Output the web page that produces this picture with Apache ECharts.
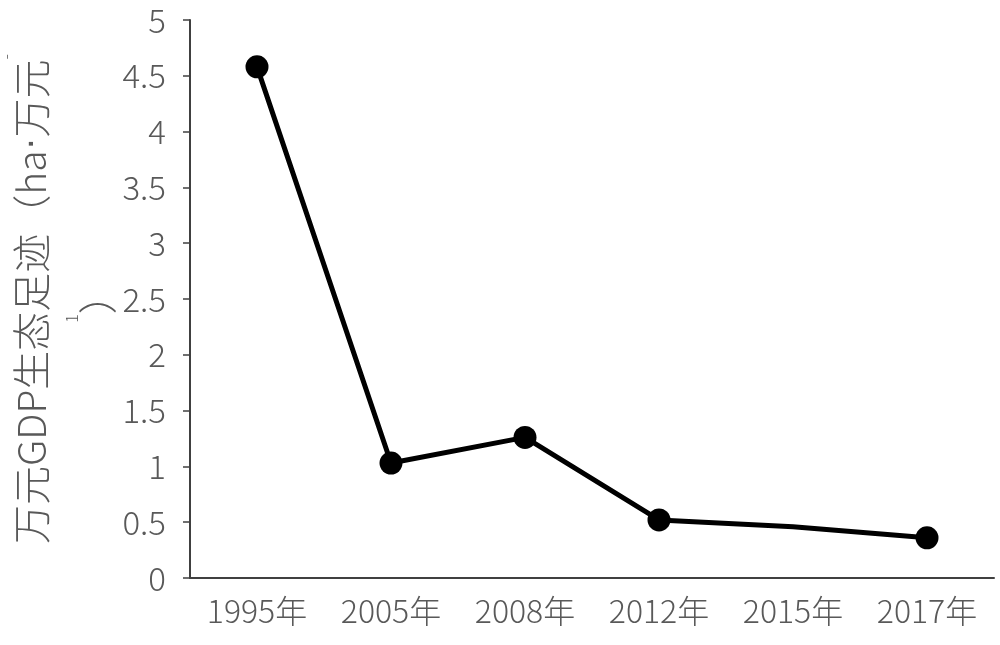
<!DOCTYPE html>
<html><head><meta charset="utf-8">
<script src="https://cdn.jsdelivr.net/npm/echarts@6/dist/echarts.min.js"></script>
<style>html,body{margin:0;padding:0;background:#fff}#c{width:1000px;height:645px}</style>
</head><body><div id="c"></div>
<script>
const categories = ['1995年','2005年','2008年','2012年','2015年','2017年'];
const values = [4.58, 1.03, 1.26, 0.52, 0.46, 0.36];
const showMarker = [true, true, true, true, false, true];
const yTicks = {min: 0, max: 5, interval: 0.5};

const chart = echarts.init(document.getElementById('c'));
const font = '"Noto Sans CJK SC", sans-serif';
chart.setOption({
  animation: false,
  grid: {left: 190, right: 6, top: 20, bottom: 67, containLabel: false, outerBoundsMode: 'none'},
  xAxis: {
    type: 'category', data: categories,
    axisLine: {lineStyle: {color: '#404040', width: 2}},
    axisTick: {show: false},
    axisLabel: {color: '#595959', fontSize: 32, fontWeight: 300, fontFamily: font, margin: 17}
  },
  yAxis: {
    type: 'value', min: yTicks.min, max: yTicks.max, interval: yTicks.interval,
    splitLine: {show: false},
    axisLine: {show: true, lineStyle: {color: '#404040', width: 2}},
    axisTick: {show: true, length: 7, lineStyle: {color: '#404040', width: 1.5}},
    axisLabel: {color: '#595959', fontSize: 33, fontWeight: 300, fontFamily: font, margin: 24,
      formatter: v => String(v)},
    name: '万元GDP生态足迹（ha{d|·}万元{s|-}\n{s|1}）',
    nameLocation: 'middle', nameGap: 60, nameRotate: 90, nameMoveOverlap: false,
    nameTextStyle: {color: '#595959', fontSize: 39, fontWeight: 300, fontFamily: font, lineHeight: 66,
      rich: {
        s: {fontSize: 16, fontWeight: 300, color: '#595959', fontFamily: font, verticalAlign: 'top', lineHeight: 66},
        d: {fontSize: 39, color: '#595959', fontFamily: '"Liberation Sans", sans-serif', lineHeight: 66}
      }}
  },
  series: [{
    type: 'line',
    data: values.map((v, i) => ({value: v, symbolSize: showMarker[i] ? 23 : 0})),
    symbol: 'circle',
    lineStyle: {color: '#000', width: 5},
    itemStyle: {color: '#000'}
  }]
});
</script></body></html>
